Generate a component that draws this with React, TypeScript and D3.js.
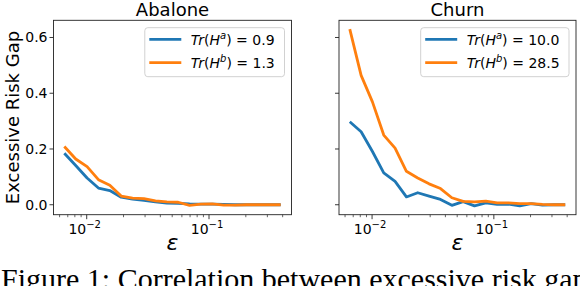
import React from "react";
import * as d3 from "d3";

// epsilon grid (x)
const eps = [
  0.00656, 0.00813, 0.01007, 0.01247, 0.01545, 0.01914, 0.02371, 0.02938,
  0.03648, 0.04519, 0.05598, 0.06934, 0.0859, 0.1064, 0.1318, 0.1633,
  0.2023, 0.2506, 0.3112, 0.3855,
];

const abaloneA = [
  0.185, 0.141, 0.096, 0.06, 0.051, 0.027, 0.02, 0.016, 0.01, 0.006, 0.005,
  0.003, 0.002, 0.002, 0.001, 0.0, 0.0, 0.0, 0.0, 0.0,
];
const abaloneB = [
  0.209, 0.164, 0.137, 0.09, 0.07, 0.031, 0.024, 0.022, 0.014, 0.01, 0.009,
  -0.002, 0.002, 0.003, -0.001, -0.001, 0.0, 0.0, 0.0, 0.0,
];
const churnA = [
  0.298, 0.262, 0.191, 0.114, 0.084, 0.028, 0.043, 0.031, 0.019, -0.002,
  0.011, -0.004, 0.007, 0.001, 0.002, -0.004, 0.004, -0.001, 0.0, 0.0,
];
const churnB = [
  0.63, 0.464, 0.369, 0.25, 0.203, 0.12, 0.096, 0.075, 0.058, 0.025, 0.012,
  0.01, 0.013, 0.007, 0.007, 0.004, 0.004, 0.001, 0.0, 0.0,
];

const yTicks = [0, 0.2, 0.4, 0.6];
const xMajor = [0.01, 0.1];
const xMajorExp = ["−2", "−1"];

const BLUE = "#1f77b4";
const ORANGE = "#ff7f0e";
const FONT = "DejaVu Sans, sans-serif";

// shared y range (sharey), matplotlib style 5% margins
const allY = [...abaloneA, ...abaloneB, ...churnA, ...churnB];
const yMin = d3.min(allY) as number;
const yMax = d3.max(allY) as number;
const yPad = (yMax - yMin) * 0.05;
const lx0 = Math.log10(eps[0]);
const lx1 = Math.log10(eps[eps.length - 1]);
const xPad = (lx1 - lx0) * 0.05;

const top = 20.3;
const bottom = 214.7;
const yScale = d3
  .scaleLinear()
  .domain([yMin - yPad, yMax + yPad])
  .range([bottom, top]);

interface PanelProps {
  left: number;
  width: number;
  title: string;
  a: number[];
  b: number[];
  labA: string;
  labB: string;
  legendW: number;
  showY: boolean;
}

const MathLabel: React.FC<{ x: number; y: number; sup: string; val: string }> = ({
  x,
  y,
  sup,
  val,
}) => (
  <text x={x} y={y} fontFamily={FONT} fontSize={14} fill="#000">
    <tspan fontStyle="italic">Tr</tspan>
    <tspan>(</tspan>
    <tspan fontStyle="italic">H</tspan>
    <tspan fontStyle="italic" fontSize={10} dy={-6}>
      {sup}
    </tspan>
    <tspan dy={6}>)</tspan>
    <tspan>{` = ${val}`}</tspan>
  </text>
);

const Panel: React.FC<PanelProps> = ({
  left,
  width,
  title,
  a,
  b,
  labA,
  labB,
  legendW,
  showY,
}) => {
  const right = left + width;
  const xScale = d3
    .scaleLog()
    .domain([Math.pow(10, lx0 - xPad), Math.pow(10, lx1 + xPad)])
    .range([left, right]);
  const line = d3
    .line<number>()
    .x((_, i) => xScale(eps[i]))
    .y((d) => yScale(d));
  const [d0, d1] = xScale.domain();
  const minor: number[] = [];
  for (let k = -3; k <= 0; k++) {
    for (let m = 2; m <= 9; m++) {
      const v = m * Math.pow(10, k);
      if (v >= d0 && v <= d1) minor.push(v);
    }
  }
  const lgRight = right - 7;
  const lgLeft = lgRight - legendW;
  const lgTop = 27.7;
  return (
    <g>
      <text
        x={(left + right) / 2}
        y={16}
        textAnchor="middle"
        fontFamily={FONT}
        fontSize={18}
      >
        {title}
      </text>
      {/* series */}
      <path d={line(a) || ""} fill="none" stroke={BLUE} strokeWidth={2.8} strokeLinejoin="round" />
      <path d={line(b) || ""} fill="none" stroke={ORANGE} strokeWidth={2.8} strokeLinejoin="round" />
      {/* frame */}
      <rect
        x={left}
        y={top}
        width={width}
        height={bottom - top}
        fill="none"
        stroke="#222"
        strokeWidth={0.9}
      />
      {/* y ticks */}
      {yTicks.map((t) => (
        <g key={t}>
          <line x1={left - 4} x2={left} y1={yScale(t)} y2={yScale(t)} stroke="#222" strokeWidth={0.9} />
          {showY && (
            <text
              x={left - 6}
              y={yScale(t) + 5}
              textAnchor="end"
              fontFamily={FONT}
              fontSize={14}
            >
              {t.toFixed(1)}
            </text>
          )}
        </g>
      ))}
      {/* x ticks */}
      {minor.map((t) => (
        <line key={t} x1={xScale(t)} x2={xScale(t)} y1={bottom} y2={bottom + 2.5} stroke="#222" strokeWidth={0.7} />
      ))}
      {xMajor.map((t, i) => (
        <g key={t}>
          <line x1={xScale(t)} x2={xScale(t)} y1={bottom} y2={bottom + 4.5} stroke="#222" strokeWidth={0.9} />
          <text x={xScale(t) - 2} y={234} textAnchor="middle" fontFamily={FONT} fontSize={14}>
            10
            <tspan fontSize={10} dy={-6}>
              {xMajorExp[i]}
            </tspan>
          </text>
        </g>
      ))}
      <text
        x={(left + right) / 2}
        y={250}
        textAnchor="middle"
        fontFamily={FONT}
        fontStyle="italic"
        fontSize={22}
      >
        ε
      </text>
      {/* legend */}
      <rect
        x={lgLeft}
        y={lgTop}
        width={legendW}
        height={49}
        rx={3}
        fill="#fff"
        fillOpacity={0.8}
        stroke="#ccc"
        strokeWidth={0.9}
      />
      <line x1={lgLeft + 4.5} x2={lgLeft + 36.5} y1={39.3} y2={39.3} stroke={BLUE} strokeWidth={2.8} />
      <line x1={lgLeft + 4.5} x2={lgLeft + 36.5} y1={62.7} y2={62.7} stroke={ORANGE} strokeWidth={2.8} />
      <MathLabel x={lgLeft + 46} y={44.5} sup="a" val={labA} />
      <MathLabel x={lgLeft + 46} y={68} sup="b" val={labB} />
    </g>
  );
};

export default function App() {
  const yMid = (top + bottom) / 2;
  return (
    <svg
      width={580}
      height={286}
      style={{ position: "absolute", left: 0, top: 0, background: "#fff" }}
    >
      <text
        transform={`translate(19, ${yMid}) rotate(-90)`}
        textAnchor="middle"
        fontFamily={FONT}
        fontSize={18}
      >
        Excessive Risk Gap
      </text>
      <Panel
        left={53.5}
        width={238}
        title="Abalone"
        a={abaloneA}
        b={abaloneB}
        labA="0.9"
        labB="1.3"
        legendW={139.7}
        showY
      />
      <Panel
        left={339}
        width={237}
        title="Churn"
        a={churnA}
        b={churnB}
        labA="10.0"
        labB="28.5"
        legendW={148.3}
        showY={false}
      />
      {/* caption, cropped at the bottom edge as in the source figure */}
      <text x={1} y={289} fontFamily="Liberation Serif, serif" fontSize={30}>
        Figure 1: Correlation between excessive risk gap and
      </text>
    </svg>
  );
}
